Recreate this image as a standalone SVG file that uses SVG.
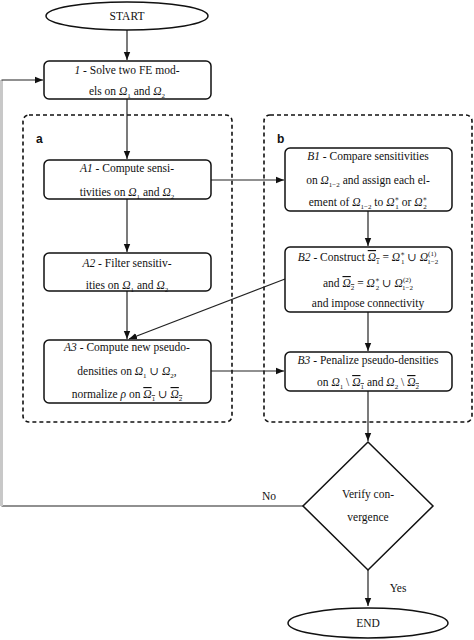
<svg xmlns="http://www.w3.org/2000/svg" width="474" height="640" viewBox="0 0 474 640">
<style>
.t{font-family:"Liberation Serif","Times New Roman","DejaVu Serif",serif;font-size:11.5px;fill:#111;text-anchor:middle}
.i{font-style:italic}
.sb{font-size:7px;baseline-shift:-3px}
.sp{font-size:7px;baseline-shift:5px}
.ol{text-decoration:overline}
.box{fill:#fff;stroke:#111;stroke-width:1.5}
.grp{fill:none;stroke:#111;stroke-width:1.6;stroke-dasharray:4 3}
.lbl{font-family:"Liberation Sans","DejaVu Sans",sans-serif;font-size:12px;font-weight:bold;fill:#111}
.c{fill:none;stroke:#222;stroke-width:1.2}
</style>
<defs>
<marker id="ah" viewBox="0 0 8 8" refX="8" refY="4" markerWidth="8" markerHeight="8" markerUnits="userSpaceOnUse" orient="auto">
<path d="M0,0.8 L8,4 L0,7.2 Z" fill="#111"/>
</marker>
</defs>
<rect width="474" height="640" fill="#fff"/>

<g id="group-a">
<rect class="grp" x="23" y="115" width="209" height="307" rx="6"/>
<text class="lbl" x="36" y="143">a</text>
</g>
<g id="group-b">
<rect class="grp" x="264" y="115" width="208" height="307" rx="6"/>
<text class="lbl" x="277" y="143">b</text>
</g>

<g id="connectors">
<path class="c" d="M127,30 V60" marker-end="url(#ah)"/>
<path class="c" d="M127,99 V159" marker-end="url(#ah)"/>
<path class="c" d="M127,199 V252" marker-end="url(#ah)"/>
<path class="c" d="M127,291 V339" marker-end="url(#ah)"/>
<path class="c" d="M211,180 H284" marker-end="url(#ah)"/>
<path class="c" d="M368,211 V246" marker-end="url(#ah)"/>
<path class="c" d="M285,279 L129,339" marker-end="url(#ah)"/>
<path class="c" d="M211,371 H284" marker-end="url(#ah)"/>
<path class="c" d="M368,312 V351" marker-end="url(#ah)"/>
<path class="c" d="M368,391 V441" marker-end="url(#ah)"/>
<path class="c" d="M368,570 V606" marker-end="url(#ah)"/>
<path class="c" d="M303,506 H1.5"/>
<path d="M1.5,506 V80" fill="none" stroke="#c8c8c8" stroke-width="3"/>
<path class="c" d="M1.5,80 H43" marker-end="url(#ah)"/>
<text class="t" x="269" y="500">No</text>
<text class="t" x="398" y="592">Yes</text>
</g>

<g id="start">
<ellipse class="box" cx="127" cy="16" rx="81" ry="14"/>
<text class="t" x="127" y="20">START</text>
</g>

<g id="step1">
<rect class="box" x="44" y="61" width="167" height="38" rx="5"/>
<text class="t" x="127" y="74"><tspan class="i">1</tspan> - Solve two FE mod-</text>
<text class="t" x="127" y="95">els on <tspan class="i">Ω</tspan><tspan class="sb">1</tspan> and <tspan class="i">Ω</tspan><tspan class="sb">2</tspan></text>
</g>

<g id="A1">
<rect class="box" x="44" y="160" width="167" height="39" rx="5"/>
<text class="t" x="127" y="172"><tspan class="i">A1</tspan> - Compute sensi-</text>
<text class="t" x="127" y="196">tivities on <tspan class="i">Ω</tspan><tspan class="sb">1</tspan> and <tspan class="i">Ω</tspan><tspan class="sb">2</tspan></text>
</g>

<g id="A2">
<rect class="box" x="44" y="253" width="167" height="38" rx="5"/>
<text class="t" x="127" y="267"><tspan class="i">A2</tspan> - Filter sensitiv-</text>
<text class="t" x="127" y="289">ities on <tspan class="i">Ω</tspan><tspan class="sb">1</tspan> and <tspan class="i">Ω</tspan><tspan class="sb">2</tspan></text>
</g>

<g id="A3">
<rect class="box" x="44" y="340" width="167" height="63" rx="5"/>
<text class="t" x="127" y="351"><tspan class="i">A3</tspan> - Compute new pseudo-</text>
<text class="t" x="127" y="375">densities on <tspan class="i">Ω</tspan><tspan class="sb">1</tspan> ∪ <tspan class="i">Ω</tspan><tspan class="sb">2</tspan>,</text>
<text class="t" x="127" y="398">normalize <tspan class="i">ρ</tspan> on <tspan class="ol"><tspan class="i">Ω</tspan><tspan class="sb">1</tspan></tspan> ∪ <tspan class="ol"><tspan class="i">Ω</tspan><tspan class="sb">2</tspan></tspan></text>
</g>

<g id="B1">
<rect class="box" x="285" y="148" width="167" height="63" rx="5"/>
<text class="t" x="368" y="160"><tspan class="i">B1</tspan> - Compare sensitivities</text>
<text class="t" x="368" y="184">on <tspan class="i">Ω</tspan><tspan class="sb">1−2</tspan> and assign each el-</text>
<text class="t" x="368" y="206">ement of <tspan class="i">Ω</tspan><tspan class="sb">1−2</tspan> to <tspan class="i">Ω</tspan><tspan class="sp">∗</tspan><tspan class="sb" dx="-4">1</tspan> or <tspan class="i">Ω</tspan><tspan class="sp">∗</tspan><tspan class="sb" dx="-4">2</tspan></text>
</g>

<g id="B2">
<rect class="box" x="285" y="247" width="167" height="65" rx="5"/>
<text class="t" x="368" y="261"><tspan class="i">B2</tspan> - Construct <tspan class="ol"><tspan class="i">Ω</tspan><tspan class="sb">1</tspan></tspan> = <tspan class="i">Ω</tspan><tspan class="sp">∗</tspan><tspan class="sb" dx="-4">1</tspan> ∪ <tspan class="i">Ω</tspan><tspan class="sp">(1)</tspan><tspan class="sb" dx="-9">1−2</tspan></text>
<text class="t" x="368" y="287">and <tspan class="ol"><tspan class="i">Ω</tspan><tspan class="sb">2</tspan></tspan>  =  <tspan class="i">Ω</tspan><tspan class="sp">∗</tspan><tspan class="sb" dx="-4">2</tspan> ∪ <tspan class="i">Ω</tspan><tspan class="sp">(2)</tspan><tspan class="sb" dx="-9">1−2</tspan></text>
<text class="t" x="368" y="307">and impose connectivity</text>
</g>

<g id="B3">
<rect class="box" x="285" y="352" width="167" height="39" rx="5"/>
<text class="t" x="368" y="364"><tspan class="i">B3</tspan> - Penalize pseudo-densities</text>
<text class="t" x="368" y="386">on <tspan class="i">Ω</tspan><tspan class="sb">1</tspan> \ <tspan class="ol"><tspan class="i">Ω</tspan><tspan class="sb">1</tspan></tspan> and <tspan class="i">Ω</tspan><tspan class="sb">2</tspan> \ <tspan class="ol"><tspan class="i">Ω</tspan><tspan class="sb">2</tspan></tspan></text>
</g>

<g id="verify">
<path class="box" d="M368,442 L433,506 L368,570 L303,506 Z"/>
<text class="t" x="368" y="498">Verify con-</text>
<text class="t" x="368" y="521">vergence</text>
</g>

<g id="end">
<ellipse class="box" cx="368" cy="623" rx="80" ry="15"/>
<text class="t" x="368" y="627">END</text>
</g>
</svg>
